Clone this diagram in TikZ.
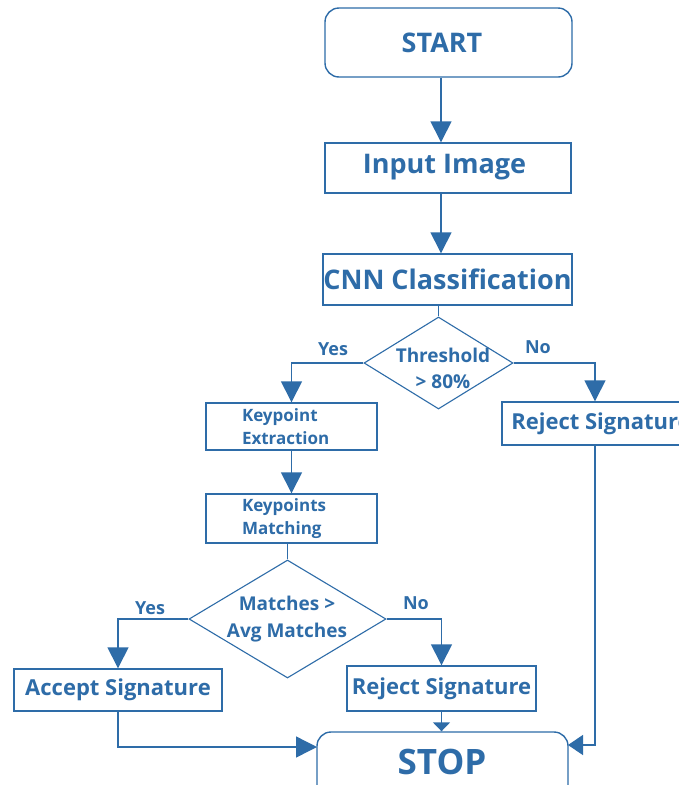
\documentclass[tikz,border=0pt]{standalone}
\usepackage{fontspec}
\setmainfont{Open Sans}
\usetikzlibrary{arrows.meta,shapes.geometric,calc}
\definecolor{flowblue}{RGB}{46,108,168}
\newcommand\szhuge{\fontsize{35pt}{40pt}\selectfont}
\newcommand\szbig{\fontsize{27pt}{32pt}\selectfont}
\newcommand\szmid{\fontsize{22pt}{26pt}\selectfont}
\newcommand\szdec{\fontsize{19pt}{26.5pt}\selectfont}
\newcommand\szsmall{\fontsize{17pt}{23pt}\selectfont}
\newcommand\szlab{\fontsize{18pt}{22pt}\selectfont}
\begin{document}
\begin{tikzpicture}[x=1pt,y=-1pt,
  every node/.style={text=flowblue,font=\bfseries},
  line/.style={draw=flowblue,line width=1.4pt},
  terminal/.style={line,rectangle,rounded corners=14pt,inner sep=0pt},
  procbox/.style={line,rectangle,inner sep=0pt},
  smallbox/.style={line,rectangle,inner xsep=36pt,inner ysep=0pt,text width=99pt,align=left,font=\bfseries\szsmall},
  decision/.style={line,diamond,inner sep=0pt,line width=1.1pt},
  dtext/.style={align=center,font=\bfseries\szdec,inner sep=0pt},
  lab/.style={font=\bfseries\szlab,inner sep=0pt},
  arr/.style={line,-{Triangle[length=21pt,width=21pt]}},
  arrshort/.style={line,-{Triangle[length=9pt,width=17pt]}},
  arrside/.style={line,-{Triangle[length=15pt,width=20pt]}},
  conn/.style={line}]
\useasboundingbox (0,0) rectangle (679,785);
\fill[white] (0,0) rectangle (679,785);
\clip (0,0) rectangle (679,785);

% main column
\node[terminal,minimum width=247pt,minimum height=69pt] (start) at (448.5,42.5) {};
\node[font=\bfseries\szbig,inner sep=0pt] (starttxt) at (442,43) {START};
\node[procbox,minimum width=246pt,minimum height=50pt] (input) at (448,168) {};
\node[font=\bfseries\szbig,inner sep=0pt] (inputtxt) at (444.5,167) {Input Image};
\node[procbox,minimum width=249pt,minimum height=51pt,font=\bfseries\szbig] (cnn) at (447.5,279.5) {CNN Classification};

% first decision
\node[decision,minimum width=149pt,minimum height=92pt] (d1) at (438.5,363) {};
\node[dtext] (d1txt) at (443,368.5) {Threshold\\> 80\%};

% left branch
\node[smallbox,minimum height=47pt] (ke) at (291.5,426.5) {Keypoint\\Extraction};
\node[procbox,minimum width=198pt,minimum height=43pt,font=\bfseries\szmid] (rj1) at (601,423.5) {Reject Signature};
\node[smallbox,minimum height=49pt] (km) at (291.5,518.5) {Keypoints\\Matching};

% second decision
\node[decision,minimum width=197pt,minimum height=118pt] (d2) at (287.5,619) {};
\node[dtext] (d2txt) at (287,619) {Matches >\\Avg Matches};

\node[procbox,minimum width=208pt,minimum height=42pt,font=\bfseries\szmid] (acc) at (118,690) {Accept Signature};
\node[procbox,minimum width=189pt,minimum height=45pt,font=\bfseries\szmid] (rj2) at (441.5,688.5) {Reject Signature};
\node[terminal,minimum width=251pt,minimum height=69pt] (stop) at (442.5,766.5) {};
\node[font=\bfseries\szhuge,inner sep=0pt] (stoptxt) at (442,762) {STOP};

% branch labels
\node[lab] (y1) at (333,349) {Yes};
\node[lab] (n1) at (538,347) {No};
\node[lab] (y2) at (150,608) {Yes};
\node[lab] (n2) at (416,603) {No};

% routing guides
\coordinate (spine) at (441,0);
\coordinate (rx) at (595,0);
\coordinate (stopL) at (317,747);
\coordinate (stopR) at (568,745);

% connectors
\draw[arr] (spine |- start.south) -- (spine |- input.north);
\draw[arr] (spine |- input.south) -- (spine |- cnn.north);
\draw[conn] (d1.north |- cnn.south) -- (d1.north);
\draw[arr] (d1.west) -| (ke.north);
\draw[arr] (d1.east) -| (rx |- rj1.north);
\draw[arr] (ke.south) -- (km.north);
\draw[conn] (d2.north |- km.south) -- (d2.north);
\draw[arr] (d2.west) -| (acc.north);
\draw[arr] (d2.east) -| (rj2.north);
\draw[arr] (acc.south) |- (stopL);
\draw[arrshort] (rj2.south) -- (rj2.south |- stop.north);
\draw[arrside] (rx |- rj1.south) |- (stopR);
\end{tikzpicture}
\end{document}
